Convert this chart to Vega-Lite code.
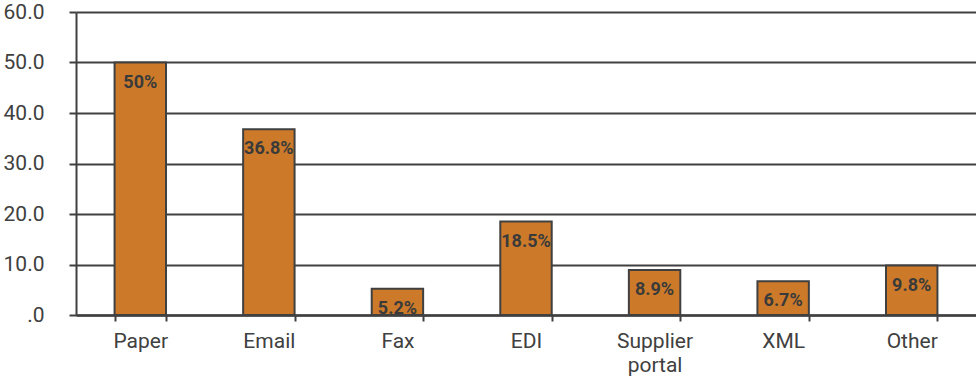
{
  "$schema": "https://vega.github.io/schema/vega-lite/v6.json",
  "width": 900,
  "height": 303,
  "autosize": {"type": "none"},
  "padding": {"left": 76, "top": 12, "right": 0, "bottom": 64},
  "background": "white",
  "config": {
    "view": {"stroke": null},
    "font": "Roboto"
  },
  "data": {
    "values": [
      {"channel": "Paper", "share": 50, "label": "50%"},
      {"channel": "Email", "share": 36.8, "label": "36.8%"},
      {"channel": "Fax", "share": 5.2, "label": "5.2%"},
      {"channel": "EDI", "share": 18.5, "label": "18.5%"},
      {"channel": "Supplier portal", "share": 8.9, "label": "8.9%"},
      {"channel": "XML", "share": 6.7, "label": "6.7%"},
      {"channel": "Other", "share": 9.8, "label": "9.8%"}
    ]
  },
  "encoding": {
    "x": {
      "field": "channel",
      "type": "nominal",
      "sort": null,
      "scale": {"paddingInner": 0.6, "paddingOuter": 0.3},
      "axis": {
        "title": null,
        "labelAngle": 0,
        "labelFont": "Roboto",
        "labelFontSize": 21,
        "labelColor": "#404040",
        "labelPadding": 9,
        "labelLineHeight": 24,
        "labelExpr": "datum.label == 'Supplier portal' ? ['Supplier', 'portal'] : datum.label",
        "tickBand": "extent",
        "tickSize": 6,
        "tickWidth": 2,
        "tickColor": "#404040",
        "domainColor": "#404040",
        "domainWidth": 2.5,
        "grid": false
      }
    },
    "y": {
      "field": "share",
      "type": "quantitative",
      "scale": {"domain": [0, 60], "nice": false},
      "axis": {
        "title": null,
        "values": [0, 10, 20, 30, 40, 50, 60],
        "labelExpr": "datum.value == 0 ? '.0' : format(datum.value, '.1f')",
        "labelFont": "Roboto",
        "labelFontSize": 21,
        "labelColor": "#404040",
        "labelPadding": 25,
        "tickSize": 7,
        "tickWidth": 2,
        "tickColor": "#404040",
        "domainColor": "#404040",
        "domainWidth": 2,
        "grid": true,
        "gridColor": "#404040",
        "gridWidth": 1.8
      }
    }
  },
  "layer": [
    {
      "mark": {"type": "bar", "color": "#CC7A2A", "stroke": "#404040", "strokeWidth": 2}
    },
    {
      "mark": {
        "type": "text",
        "baseline": "alphabetic",
        "dy": 25,
        "font": "Roboto",
        "fontWeight": "bold",
        "fontSize": 18,
        "color": "#3a3a3a"
      },
      "encoding": {"text": {"field": "label"}}
    }
  ]
}
